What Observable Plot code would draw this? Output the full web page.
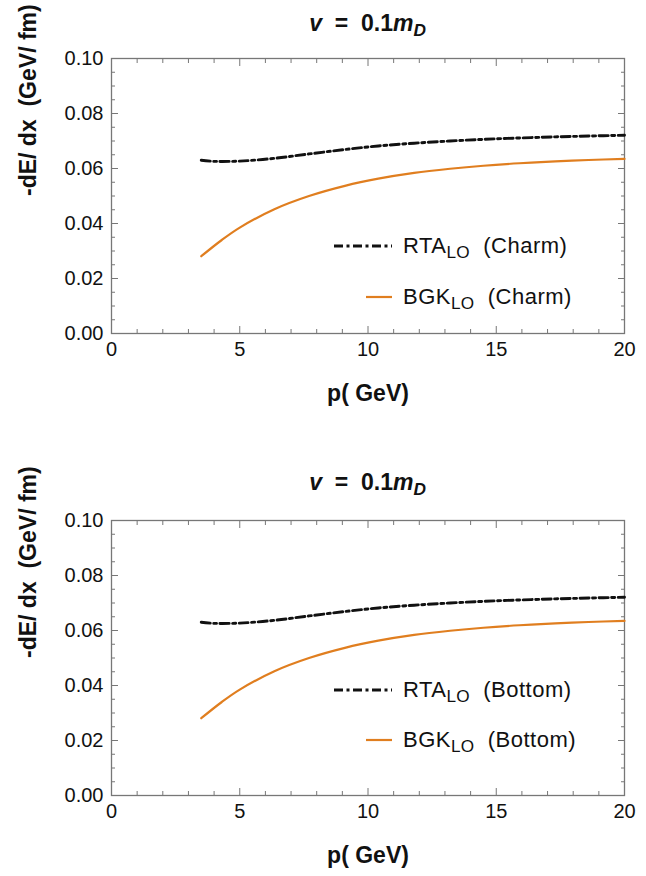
<!DOCTYPE html>
<html>
<head>
<meta charset="utf-8">
<script src="https://cdn.jsdelivr.net/npm/d3@7"></script>
<script src="https://cdn.jsdelivr.net/npm/@observablehq/plot@0.6"></script>
<style>
  html, body { margin: 0; padding: 0; background: #fff; overflow: hidden; }
  #wrap { position: relative; width: 646px; height: 876px; overflow: hidden; background: #fff; font-family: "Liberation Sans", Arial, sans-serif; color: #111; }
  .panel { position: absolute; left: 0; width: 646px; height: 414px; }
  .title { position: absolute; left: 111px; width: 513px; text-align: center; font-weight: bold; font-size: 23px; line-height: 26px; }
  .legend { position: absolute; left: 0; top: 0; font-size: 22px; letter-spacing: 0.5px; white-space: nowrap; }
  .legend .row { position: absolute; display: flex; align-items: center; height: 24px; }
  .legend sub { font-size: 0.78em; vertical-align: -0.3em; line-height: 0; letter-spacing: 0.3px; }
  svg text { font-family: "Liberation Sans", Arial, sans-serif; }
</style>
</head>
<body>
<div id="wrap"></div>
<script>
// ---- data ----
const rtaP   = [3.5, 4.0, 5.0, 6.35, 7.7, 9.1, 10.4, 11.8, 13.2, 14.5, 15.9, 17.3, 18.6, 20];
const rtaVal = [0.0630, 0.0626, 0.0627, 0.0637, 0.0653, 0.0669, 0.0682, 0.0692, 0.0700, 0.0706, 0.0711, 0.0715, 0.0718, 0.0721];
const bgkP   = [3.5, 4.3, 5.0, 6.35, 7.7, 9.1, 10.4, 11.8, 13.2, 14.5, 15.9, 17.3, 18.6, 20];
const bgkVal = [0.0281, 0.0340, 0.0385, 0.0452, 0.0500, 0.0537, 0.0563, 0.0584, 0.0599, 0.0610, 0.0619, 0.0626, 0.0631, 0.0635];
const panels = ["Charm", "Bottom"];
const xMajor = [0, 5, 10, 15, 20];
const yMajor = [0, 0.02, 0.04, 0.06, 0.08, 0.10];
const xLabel = "p( GeV)";
const yLabel = "-dE/ dx  (GeV/ fm)";

const RTA_COLOR = "#111111";
const BGK_COLOR = "#e07e1f";
const FRAME = "#777777";
const DASH = "9,3.5,3,3.5";

const xMinor = d3.range(0, 20.001, 1).filter(v => v % 5 !== 0);
const yMinor = d3.range(0, 0.1001, 0.005).map(v => +v.toFixed(3)).filter(v => Math.round(v * 1000) % 20 !== 0);

const rta = rtaP.map((p, i) => ({p, v: rtaVal[i]}));
const bgk = bgkP.map((p, i) => ({p, v: bgkVal[i]}));

const panelTop = [0, 462];
const titleTop = [10, 7];
const legendTop = [[234, 285], [216, 266]];

const wrap = document.getElementById("wrap");

panels.forEach((quark, k) => {
  const panel = document.createElement("div");
  panel.className = "panel";
  panel.style.top = panelTop[k] + "px";
  wrap.appendChild(panel);

  const chart = Plot.plot({
    width: 646,
    height: 414,
    marginTop: 58,
    marginBottom: 81,
    marginLeft: 111,
    marginRight: 22,
    style: {fontFamily: "Liberation Sans, Arial, sans-serif", fontSize: "20px", color: "#111", background: "white"},
    x: {domain: [0, 20]},
    y: {domain: [0, 0.1]},
    marks: [
      Plot.frame({stroke: FRAME, strokeWidth: 1.3}),
      // tick labels
      Plot.axisX(xMajor, {anchor: "bottom", tickSize: 0, tickPadding: 8, tickFormat: d => d, fontSize: 20, fill: "#111", label: null}),
      Plot.axisY(yMajor, {anchor: "left", tickSize: 0, tickPadding: 8, tickFormat: d3.format(".2f"), fontSize: 20, fill: "#111", label: null}),
      // major ticks (inward)
      Plot.axisX(xMajor, {anchor: "bottom", tickSize: -7, text: null, stroke: FRAME, label: null}),
      Plot.axisX(xMajor, {anchor: "top", tickSize: -7, text: null, stroke: FRAME, label: null}),
      Plot.axisY(yMajor, {anchor: "left", tickSize: -7, text: null, stroke: FRAME, label: null}),
      Plot.axisY(yMajor, {anchor: "right", tickSize: -7, text: null, stroke: FRAME, label: null}),
      // minor ticks
      Plot.axisX(xMinor, {anchor: "bottom", tickSize: -4, text: null, stroke: FRAME, label: null}),
      Plot.axisX(xMinor, {anchor: "top", tickSize: -4, text: null, stroke: FRAME, label: null}),
      Plot.axisY(yMinor, {anchor: "left", tickSize: -4, text: null, stroke: FRAME, label: null}),
      Plot.axisY(yMinor, {anchor: "right", tickSize: -4, text: null, stroke: FRAME, label: null}),
      // axis titles
      Plot.text([xLabel], {frameAnchor: "bottom", dy: 67, fontSize: 23, fontWeight: "bold", fill: "#111"}),
      Plot.text([yLabel], {frameAnchor: "left", rotate: -90, dx: -83, fontSize: 23, fontWeight: "bold", fill: "#111"}),
      // curves
      Plot.line(bgk, {x: "p", y: "v", stroke: BGK_COLOR, strokeWidth: 2.2, curve: "catmull-rom"}),
      Plot.line(rta, {x: "p", y: "v", stroke: RTA_COLOR, strokeWidth: 2.9, strokeDasharray: DASH, curve: "catmull-rom"})
    ]
  });
  chart.style.position = "absolute";
  chart.style.left = "0px";
  chart.style.top = "0px";
  panel.appendChild(chart);

  const title = document.createElement("div");
  title.className = "title";
  title.style.top = titleTop[k] + "px";
  title.innerHTML = '<i>v</i>&nbsp; = &nbsp;0.1<i>m<sub style="font-size:0.75em;vertical-align:-0.3em;line-height:0">D</sub></i>';
  panel.appendChild(title);

  const legend = document.createElement("div");
  legend.className = "legend";
  legend.innerHTML = `
    <div class="row" style="left:334px; top:${legendTop[k][0]}px;">
      <svg width="58" height="8"><line x1="0" y1="4" x2="58" y2="4" stroke="${RTA_COLOR}" stroke-width="2.9" stroke-dasharray="${DASH}"/></svg>
      <span style="margin-left:11px">RTA<sub>LO</sub>&nbsp; (${quark})</span>
    </div>
    <div class="row" style="left:366px; top:${legendTop[k][1]}px;">
      <svg width="26" height="8"><line x1="0" y1="4" x2="26" y2="4" stroke="${BGK_COLOR}" stroke-width="2.2"/></svg>
      <span style="margin-left:11px">BGK<sub>LO</sub>&nbsp; (${quark})</span>
    </div>`;
  panel.appendChild(legend);
});
</script>
</body>
</html>
